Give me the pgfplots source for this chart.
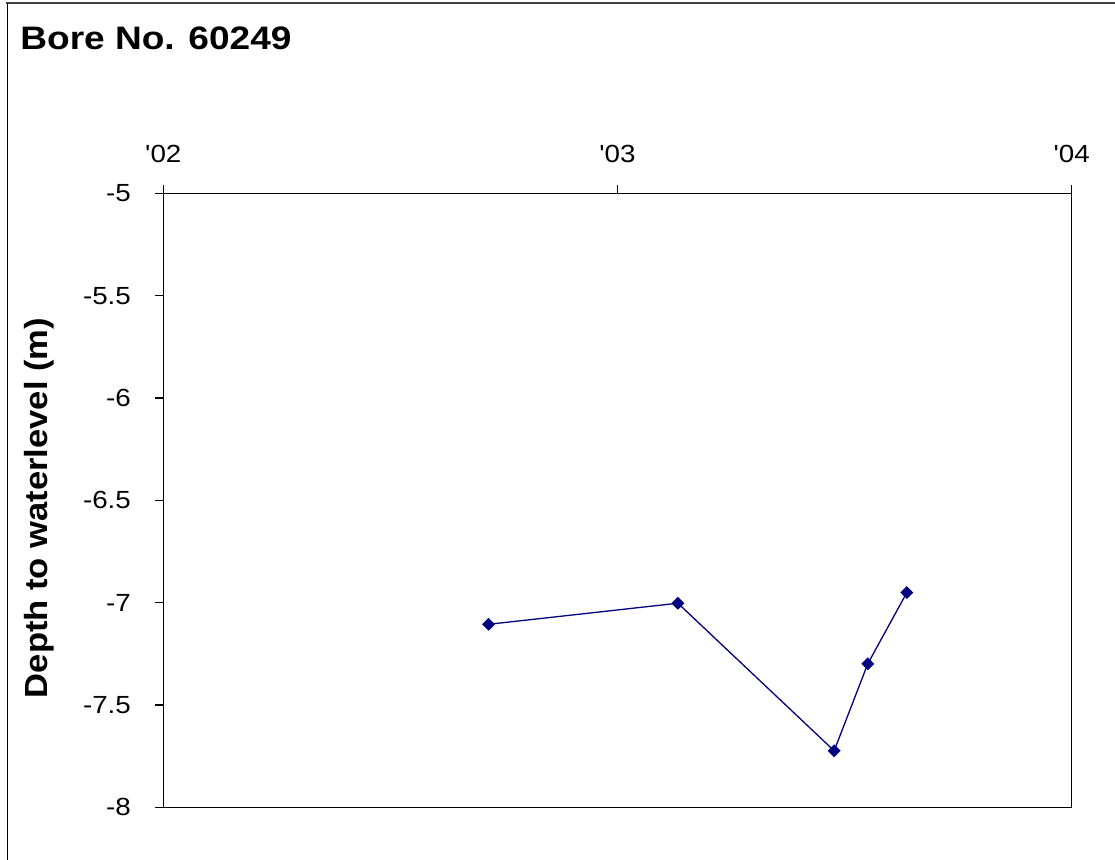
\documentclass[border=0pt]{standalone}
\usepackage{pgfplots}
\pgfplotsset{compat=1.18}
\usepackage{fontspec}
\setmainfont{Liberation Sans}
\newfontfamily\lsans{Liberation Sans}
\definecolor{navy}{RGB}{0,0,128}
\newcommand{\sx}[1]{\scalebox{1.12}[1]{#1}}
\begin{document}
\begin{tikzpicture}[x=1pt,y=1pt]
\useasboundingbox (0,0) rectangle (557.5,430);
\fill[white] (0,0) rectangle (557.5,430);
\draw[line width=0.75pt, black] (3.65,-2) -- (3.65,428.3);
\draw[line width=1pt, black!75] (3.2,428.3) -- (562,428.3);
\node[anchor=base west, inner sep=0pt, font=\bfseries\fontsize{16.25}{19}\selectfont] at (10,405.35) {\scalebox{1.14}[1]{Bore No. 60249}};
\node[rotate=90, inner sep=0pt, font=\bfseries\fontsize{16}{19}\selectfont] at (19.5,176) {\scalebox{1.08}[1]{Depth to waterlevel (m)}};
\begin{axis}[
  scale only axis, width=454.2pt, height=307pt,
  at={(81.65pt,26.35pt)}, anchor=south west,
  xmin=2002, xmax=2004, ymin=-8, ymax=-5,
  xtick={2002,2003,2004},
  xticklabels={\sx{\lsans '02},\sx{\lsans '03},\sx{\lsans '04}},
  xtick pos=right, xticklabel pos=right,
  ytick={-8,-7.5,-7,-6.5,-6,-5.5,-5},
  yticklabels={\sx{-8},\sx{-7.5},\sx{-7},\sx{-6.5},\sx{-6},\sx{-5.5},\sx{-5}},
  ytick pos=left,
  tick align=outside, major tick length=4pt,
  major tick style={line width=0.6pt, black, draw=black},
  axis line style={line width=0.6pt, black},
  ticklabel style={font=\fontsize{12.4}{14}\selectfont},
  xticklabel style={anchor=base, inner sep=0pt, yshift=11.5pt},
  yticklabel style={anchor=east, inner sep=0pt, xshift=-12pt},
  clip=false,
]
\addplot[color=navy, line width=0.65pt, mark=square*, mark size=1.95pt, mark options={rotate=45, solid, fill=navy}]
  coordinates {(2002.716,-7.106) (2003.133,-7.003) (2003.477,-7.724) (2003.551,-7.299) (2003.637,-6.951)};
\end{axis}
\end{tikzpicture}
\end{document}
